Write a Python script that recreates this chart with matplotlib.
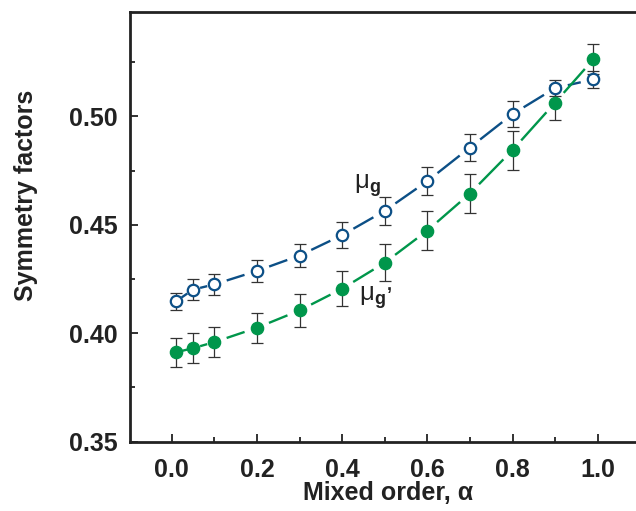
import numpy as np
import matplotlib
matplotlib.use("Agg")
import matplotlib.pyplot as plt
from matplotlib.ticker import MultipleLocator, FormatStrFormatter

# ---- data ----
alpha = [0.01, 0.05, 0.1, 0.2, 0.3, 0.4, 0.5, 0.6, 0.7, 0.8, 0.9, 0.99]
mu_g = [0.4147, 0.4201, 0.4225, 0.4287, 0.4358, 0.4452, 0.4564, 0.4701, 0.4856, 0.5010, 0.5130, 0.5170]
mu_g_err = [0.0038, 0.0048, 0.0050, 0.0049, 0.0051, 0.0060, 0.0063, 0.0065, 0.0064, 0.0061, 0.0038, 0.0039]
mu_gp = [0.3912, 0.3931, 0.3959, 0.4025, 0.4105, 0.4205, 0.4325, 0.4473, 0.4644, 0.4844, 0.5063, 0.5263]
mu_gp_err = [0.0067, 0.0068, 0.0070, 0.0070, 0.0078, 0.0080, 0.0086, 0.0089, 0.0091, 0.0090, 0.0080, 0.0068]
xticks = [0.0, 0.2, 0.4, 0.6, 0.8, 1.0]
yticks = [0.35, 0.40, 0.45, 0.50]

BLUE = "#0c4f86"
GREEN = "#00964b"
ECOL = "#333333"

plt.rcParams['font.family'] = ['Liberation Sans', 'DejaVu Sans']
plt.rcParams['mathtext.fontset'] = 'custom'
plt.rcParams['mathtext.rm'] = 'Liberation Sans'
plt.rcParams['mathtext.bf'] = 'Liberation Sans:bold'
plt.rcParams['mathtext.it'] = 'Liberation Sans:italic'

fig = plt.figure(figsize=(6.36, 5.11), dpi=100)
ax = fig.add_axes([130/636, (511-441.7)/511, 510/636, 430/511])
ax.set_xlim(-0.0979, 1.0993)
ax.set_ylim(0.35, 0.5482)

def gapped_line(xs, ys, color):
    pts = ax.transData.transform(np.column_stack([xs, ys]))
    inv = ax.transData.inverted()
    for i in range(len(pts) - 1):
        p0, p1 = pts[i], pts[i + 1]
        d = p1 - p0
        L = np.hypot(*d)
        u = d / L
        g = min(13.0, L / 3.0)
        a = inv.transform(p0 + u * g)
        b = inv.transform(p1 - u * g)
        ax.plot([a[0], b[0]], [a[1], b[1]], color=color, lw=1.7,
                solid_capstyle='butt', zorder=1)

gapped_line(alpha, mu_g, BLUE)
gapped_line(alpha, mu_gp, GREEN)

ax.errorbar(alpha, mu_g, yerr=mu_g_err, fmt='none', ecolor=ECOL,
            elinewidth=0.9, capsize=4.2, capthick=0.9, zorder=2)
ax.errorbar(alpha, mu_gp, yerr=mu_gp_err, fmt='none', ecolor=ECOL,
            elinewidth=0.9, capsize=4.2, capthick=0.9, zorder=2)

ax.plot(alpha, mu_g, 'o', ms=8.2, mfc='white', mec=BLUE, mew=1.6,
        ls='none', zorder=3)
ax.plot(alpha, mu_gp, 'o', ms=8.8, mfc=GREEN, mec=GREEN, mew=1.0,
        ls='none', zorder=4)

ax.text(0.428, 0.4667, r'$\mathrm{\mu}_{\mathbf{g}}$', fontsize=18.5,
        ha='left', va='baseline', color='#222222')
ax.text(0.440, 0.4150, r'$\mathrm{\mu}_{\mathbf{g}}{}^{\mathbf{,}}$', fontsize=18.5,
        ha='left', va='baseline', color='#222222')

ax.set_xticks(xticks)
ax.set_yticks(yticks)
ax.xaxis.set_minor_locator(MultipleLocator(0.1))
ax.yaxis.set_minor_locator(MultipleLocator(0.025))
ax.xaxis.set_major_formatter(FormatStrFormatter('%.1f'))
ax.yaxis.set_major_formatter(FormatStrFormatter('%.2f'))
ax.tick_params(which='both', direction='in', top=False, right=False,
               width=1.3, color='#222222')
ax.tick_params(which='major', length=6)
ax.tick_params(which='minor', length=3.5)
ax.tick_params(axis='y', which='major', pad=9.0)
ax.tick_params(axis='x', which='major', pad=11.5)
for lab in ax.get_xticklabels() + ax.get_yticklabels():
    lab.set_fontsize(18)
    lab.set_fontweight('bold')
    lab.set_color('#222222')

for s in ['left', 'bottom', 'top']:
    ax.spines[s].set_linewidth(2.0)
    ax.spines[s].set_color('#222222')
ax.spines['right'].set_visible(False)

ax.set_xlabel(r'Mixed order, α', fontsize=18, fontweight='bold', color='#222222')
ax.set_ylabel('Symmetry factors', fontsize=18, fontweight='bold', color='#222222')
ax.xaxis.label.set_va('center')
ax.yaxis.label.set_va('center')
ax.xaxis.set_label_coords(0.506, -0.119)
ax.yaxis.set_label_coords(-0.204, 0.574)

fig.savefig('out.png', dpi=100)
